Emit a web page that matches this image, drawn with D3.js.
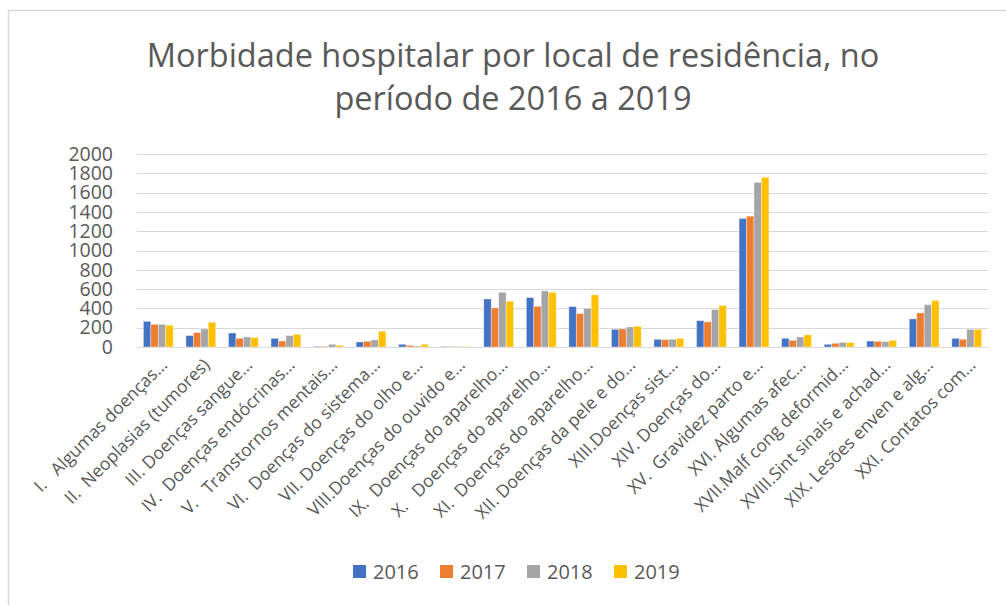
<!DOCTYPE html>
<html>
<head>
<meta charset="utf-8">
<script src="https://cdn.jsdelivr.net/npm/d3@7"></script>
<style>
  html, body { margin: 0; padding: 0; background: #fff; }
  svg { display: block; font-family: "Open Sans", sans-serif; }
</style>
</head>
<body>
<svg id="chart" width="1006" height="605"></svg>
<script>
const categories = [
  "I.   Algumas doenças…",
  "II.  Neoplasias (tumores)",
  "III. Doenças sangue…",
  "IV.  Doenças endócrinas…",
  "V.   Transtornos mentais…",
  "VI.  Doenças do sistema…",
  "VII. Doenças do olho e…",
  "VIII.Doenças do ouvido e…",
  "IX.  Doenças do aparelho…",
  "X.   Doenças do aparelho…",
  "XI.  Doenças do aparelho…",
  "XII. Doenças da pele e do…",
  "XIII.Doenças sist…",
  "XIV. Doenças do…",
  "XV.  Gravidez parto e…",
  "XVI. Algumas afec…",
  "XVII.Malf cong deformid…",
  "XVIII.Sint sinais e achad…",
  "XIX. Lesões enven e alg…",
  "XXI. Contatos com…"
];
const seriesNames = ["2016", "2017", "2018", "2019"];
const values2016 = [266, 118, 145, 90, 7, 52, 28, 5, 498, 512, 419, 183, 80, 273, 1332, 90, 28, 62, 291, 90];
const values2017 = [235, 149, 90, 62, 7, 59, 17, 4, 405, 422, 346, 187, 76, 260, 1356, 69, 38, 59, 353, 80];
const values2018 = [235, 187, 104, 118, 28, 73, 10, 4, 567, 581, 401, 208, 80, 388, 1706, 104, 48, 55, 439, 183];
const values2019 = [225, 256, 97, 131, 17, 163, 28, 5, 474, 567, 540, 215, 90, 429, 1758, 125, 45, 69, 481, 183];
const colors = ["#4472C4", "#ED7D31", "#A5A5A5", "#FFC000"];
const yTicks = [0, 200, 400, 600, 800, 1000, 1200, 1400, 1600, 1800, 2000];
const titleLines = ["Morbidade hospitalar por local de residência, no", "período de 2016 a 2019"];

const seriesValues = [values2016, values2017, values2018, values2019];
const svg = d3.select("#chart");
const textColor = "#595959";
const gridColor = "#d9d9d9";

// chart border
svg.append("path")
  .attr("d", "M8.5,605 L8.5,10.5 L1006,10.5")
  .attr("fill", "none").attr("stroke", gridColor).attr("stroke-width", 1.5);

// title
svg.append("g").selectAll("text").data(titleLines).join("text")
  .attr("x", 513).attr("y", (d, i) => 67 + i * 43)
  .attr("text-anchor", "middle")
  .attr("font-size", 32.5).attr("fill", textColor)
  .text(d => d);

const x0 = d3.scaleBand().domain(categories).range([137, 988]).paddingInner(0.3).paddingOuter(0.15);
const x1 = d3.scaleBand().domain(seriesNames).range([0, x0.bandwidth()]);
const y = d3.scaleLinear().domain([0, 2000]).range([347, 154]);

// grid
svg.append("g").selectAll("line").data(yTicks).join("line")
  .attr("x1", 137).attr("x2", 988)
  .attr("y1", d => Math.round(y(d)) + 0.5).attr("y2", d => Math.round(y(d)) + 0.5)
  .attr("stroke", gridColor).attr("stroke-width", 1.2);

// y axis labels
const yAxis = d3.axisLeft(y).tickValues(yTicks).tickFormat(d3.format("d")).tickSize(0).tickPadding(0);
const gy = svg.append("g").attr("transform", "translate(113,0)").call(yAxis);
gy.select(".domain").remove();
gy.selectAll("text").attr("font-size", 19.5).attr("fill", textColor)
  .attr("font-family", "Open Sans, sans-serif");

// bars
const groups = svg.append("g").selectAll("g").data(categories).join("g")
  .attr("transform", d => `translate(${x0(d)},0)`);
groups.selectAll("rect")
  .data((c, ci) => seriesNames.map((s, si) => ({ s, si, v: seriesValues[si][ci] })))
  .join("rect")
  .attr("x", d => x1(d.s))
  .attr("width", x1.bandwidth())
  .attr("y", d => y(d.v))
  .attr("height", d => y(0) - y(d.v))
  .attr("fill", d => colors[d.si])
  .attr("stroke", "#ffffff").attr("stroke-opacity", 0.45).attr("stroke-width", 0.8);

// x labels
svg.append("g").selectAll("text").data(categories).join("text")
  .attr("transform", d => `translate(${x0(d) + x0.bandwidth() / 2 + 10},366) rotate(-45)`)
  .attr("text-anchor", "end")
  .attr("font-size", 17.5).attr("fill", textColor)
  .style("white-space", "pre")
  .text(d => d);

// legend
const legend = svg.append("g").selectAll("g").data(seriesNames).join("g")
  .attr("transform", (d, i) => `translate(${353 + i * 87},565)`);
legend.append("rect").attr("width", 13).attr("height", 13).attr("fill", (d, i) => colors[i]);
legend.append("text").attr("x", 20).attr("y", 13.5).attr("font-size", 20).attr("fill", textColor).text(d => d);
</script>
</body>
</html>
